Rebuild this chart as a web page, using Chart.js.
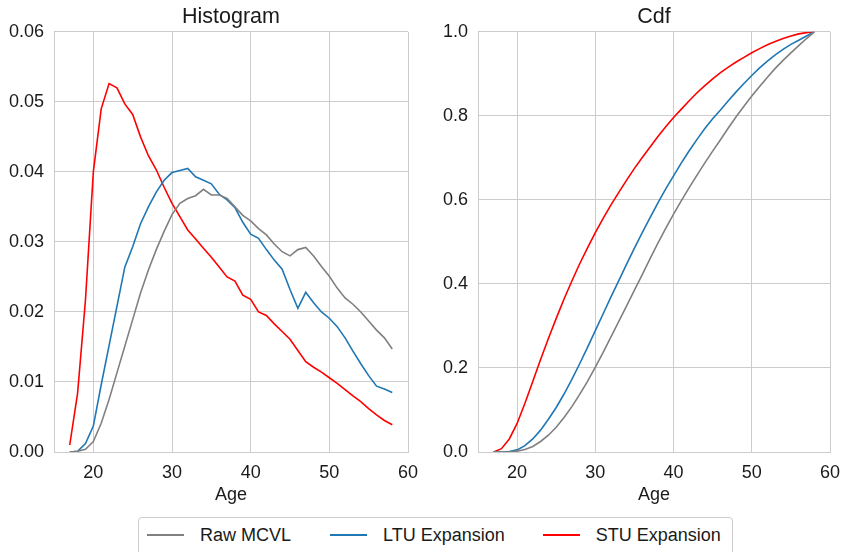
<!DOCTYPE html>
<html>
<head>
<meta charset="utf-8">
<script src="https://cdn.jsdelivr.net/npm/chart.js@4.4.1/dist/chart.umd.min.js"></script>
<style>
  html, body { margin: 0; padding: 0; background: #fff; }
  body { width: 843px; height: 552px; position: relative; overflow: hidden; font-family: "Liberation Sans", Arial, sans-serif; }
  .panel { position: absolute; top: 0; height: 508px; }
  #histWrap { left: 0; width: 421px; }
  #cdfWrap { left: 421px; width: 422px; }
  #legend {
    position: absolute; left: 138px; top: 517px; width: 595px; height: 40px;
    border: 1px solid #cccccc; border-radius: 4px; box-sizing: border-box;
    display: flex; align-items: center; padding-left: 8px; padding-bottom: 4px;
    font-size: 18px; color: #1a1a1a; white-space: nowrap;
  }
  .item { display: flex; align-items: center; flex-shrink: 0; }
  .swatch { width: 37px; height: 2px; margin-right: 16px; flex-shrink: 0; }
</style>
</head>
<body>
<div class="panel" id="histWrap"><canvas id="hist"></canvas></div>
<div class="panel" id="cdfWrap"><canvas id="cdf"></canvas></div>
<div id="legend"></div>
<script>
const ages = [17, 18, 19, 20, 21, 22, 23, 24, 25, 26, 27, 28, 29, 30, 31, 32, 33, 34, 35, 36, 37,
  38, 39, 40, 41, 42, 43, 44, 45, 46, 47, 48, 49, 50, 51, 52, 53, 54, 55, 56, 57, 58];

const seriesNames = ['Raw MCVL', 'LTU Expansion', 'STU Expansion'];
const seriesColors = ['#808080', '#1f77b4', '#ff0000'];

// histogram (density per year of age)
const rawHist = [0.0000, 0.0001, 0.0004, 0.0015, 0.0041, 0.0075, 0.0113, 0.0151, 0.0189, 0.0227, 0.0260,
  0.0289, 0.0315, 0.0339, 0.0355, 0.0362, 0.0366, 0.0375, 0.0367, 0.0367, 0.0362, 0.0350, 0.0338, 0.0330,
  0.0319, 0.0310, 0.0297, 0.0286, 0.0280, 0.0289, 0.0292, 0.0280, 0.0265, 0.0251, 0.0234, 0.0220, 0.0211,
  0.0200, 0.0187, 0.0174, 0.0163, 0.0147];
const ltuHist = [0.0000, 0.0001, 0.0012, 0.0037, 0.0096, 0.0152, 0.0208, 0.0264, 0.0293, 0.0326, 0.0350,
  0.0371, 0.0388, 0.0399, 0.0402, 0.0405, 0.0393, 0.0388, 0.0383, 0.0368, 0.0360, 0.0349, 0.0328, 0.0311,
  0.0305, 0.0289, 0.0274, 0.0261, 0.0232, 0.0205, 0.0228, 0.0213, 0.0200, 0.0191, 0.0179, 0.0163, 0.0144,
  0.0126, 0.0109, 0.0094, 0.0090, 0.0085];
const stuHist = [0.0010, 0.0084, 0.0217, 0.0400, 0.0490, 0.0526, 0.0520, 0.0497, 0.0482, 0.0450, 0.0423,
  0.0403, 0.0378, 0.0355, 0.0336, 0.0317, 0.0304, 0.0291, 0.0278, 0.0264, 0.0250, 0.0244, 0.0224, 0.0218,
  0.0200, 0.0195, 0.0183, 0.0172, 0.0161, 0.0145, 0.0129, 0.0121, 0.0114, 0.0106, 0.0098, 0.0089, 0.0080,
  0.0072, 0.0062, 0.0053, 0.0045, 0.0039];

// cumulative distribution
const rawCdf = [0.000, 0.000, 0.000, 0.002, 0.006, 0.013, 0.025, 0.040, 0.059, 0.082, 0.108, 0.137, 0.168,
  0.202, 0.237, 0.274, 0.311, 0.348, 0.385, 0.422, 0.460, 0.497, 0.532, 0.566, 0.598, 0.629, 0.659, 0.688,
  0.716, 0.743, 0.771, 0.798, 0.823, 0.847, 0.870, 0.892, 0.913, 0.932, 0.950, 0.967, 0.984, 1.000];
const ltuCdf = [0.000, 0.000, 0.001, 0.005, 0.015, 0.031, 0.052, 0.078, 0.106, 0.138, 0.173, 0.210, 0.249,
  0.289, 0.329, 0.369, 0.408, 0.447, 0.485, 0.522, 0.558, 0.593, 0.626, 0.657, 0.688, 0.717, 0.744, 0.770,
  0.793, 0.814, 0.836, 0.857, 0.877, 0.896, 0.914, 0.930, 0.945, 0.958, 0.970, 0.980, 0.990, 1.000];
const stuCdf = [0.000, 0.008, 0.031, 0.068, 0.116, 0.168, 0.220, 0.270, 0.318, 0.364, 0.407, 0.448, 0.486,
  0.522, 0.556, 0.588, 0.618, 0.647, 0.675, 0.701, 0.726, 0.751, 0.774, 0.796, 0.816, 0.836, 0.855, 0.872,
  0.888, 0.903, 0.916, 0.928, 0.939, 0.950, 0.960, 0.969, 0.977, 0.984, 0.990, 0.995, 0.998, 1.000];

const xTicks = [20, 30, 40, 50, 60];
const histTicks = [0, 0.01, 0.02, 0.03, 0.04, 0.05, 0.06];
const cdfTicks = [0, 0.2, 0.4, 0.6, 0.8, 1.0];

const FONT = '"Liberation Sans", Arial, sans-serif';
const GRID = '#cccccc';
const TEXT = '#1a1a1a';

function makeDatasets(lists) {
  return lists.map((vals, i) => ({
    label: seriesNames[i],
    data: ages.map((a, j) => ({ x: a, y: vals[j] })),
    borderColor: seriesColors[i],
    borderWidth: 1.6,
    pointRadius: 0,
    tension: 0,
    fill: false
  }));
}

function makeChart(id, title, lists, yMax, yTicks, digits, yWidth) {
  return new Chart(document.getElementById(id), {
    type: 'line',
    data: { datasets: makeDatasets(lists) },
    options: {
      responsive: true,
      maintainAspectRatio: false,
      animation: false,
      layout: { padding: { right: 13, left: 0, top: 0, bottom: 0 } },
      plugins: {
        legend: { display: false },
        tooltip: { enabled: false },
        title: {
          display: true, text: title, color: TEXT, fullSize: false,
          font: { family: FONT, size: 21.5, weight: 'normal', lineHeight: 1.2 },
          padding: { top: 4, bottom: 2 }
        }
      },
      scales: {
        x: {
          type: 'linear', min: 15, max: 60,
          afterBuildTicks: s => { s.ticks = xTicks.map(v => ({ value: v })); },
          afterFit: s => { s.height = 56; s.paddingLeft = 0; s.paddingRight = 0; },
          grid: { color: GRID, lineWidth: 1, drawTicks: false },
          border: { color: GRID, width: 1 },
          ticks: { color: TEXT, font: { family: FONT, size: 18 }, padding: 10, maxRotation: 0 },
          title: { display: true, text: 'Age', color: TEXT, font: { family: FONT, size: 18 }, padding: { top: 0, bottom: 2 } }
        },
        y: {
          min: 0, max: yMax,
          afterBuildTicks: s => { s.ticks = yTicks.map(v => ({ value: v })); },
          afterFit: s => { s.width = yWidth; s.paddingTop = 0; s.paddingBottom = 0; },
          grid: { color: GRID, lineWidth: 1, drawTicks: false },
          border: { color: GRID, width: 1 },
          ticks: { color: TEXT, font: { family: FONT, size: 18 }, padding: 10, callback: v => v.toFixed(digits) }
        }
      }
    }
  });
}

makeChart('hist', 'Histogram', [rawHist, ltuHist, stuHist], 0.06, histTicks, 2, 54);
makeChart('cdf', 'Cdf', [rawCdf, ltuCdf, stuCdf], 1.0, cdfTicks, 1, 57);

// legend items spaced like the reference
const gaps = [39, 38, 0];
const legend = document.getElementById('legend');
legend.innerHTML = seriesNames.map((name, i) => `
  <div class="item" style="margin-right:${gaps[i]}px"><span class="swatch" style="background:${seriesColors[i]}"></span><span>${name}</span></div>
`).join('');
</script>
</body>
</html>
